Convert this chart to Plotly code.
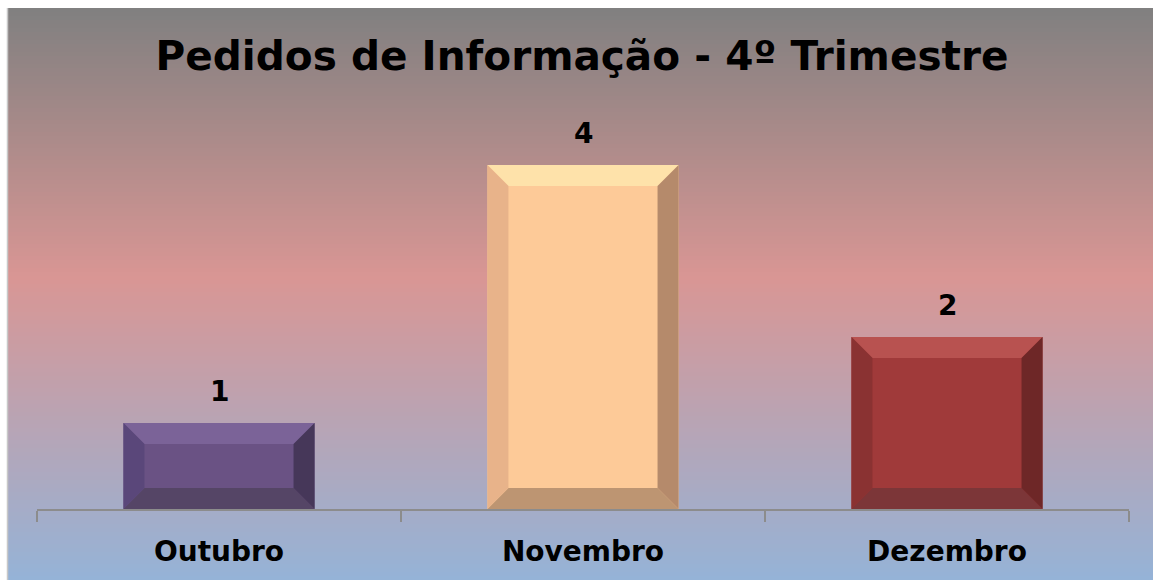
import plotly.graph_objects as go

# ---- data ----
categories = ["Outubro", "Novembro", "Dezembro"]
values = [1, 4, 2]
title_text = "Pedidos de Informação - 4º Trimestre"

# ---- styles ----
face_colors = {  # inner, top, left, right, bottom
    "Outubro": ["#6a5284", "#7b6398", "#5a477a", "#463759", "#554566"],
    "Novembro": ["#fdca98", "#fee2aa", "#e8b38a", "#b58a6b", "#bd9572"],
    "Dezembro": ["#a03a3a", "#b85250", "#8a3232", "#6e2727", "#7c3638"],
}
FONT = "DejaVu Sans"
W, H = 1153, 580
ML, MR, MT, MB = 37, 24, 79, 71
PW, PH = W - ML - MR, H - MT - MB
OFF_X, OFF_Y = 8, 8          # white frame at top/left of the picture
YMAX = 5
BAR_W = 0.525
BEVEL_PX = 21
dx = BEVEL_PX / (PW / 3)
dy = BEVEL_PX / (PH / YMAX)

fig = go.Figure()

# base bars
fig.add_trace(go.Bar(
    x=categories, y=values, width=BAR_W,
    marker=dict(color=[face_colors[c][0] for c in categories], line=dict(width=0)),
    hoverinfo="x+y", showlegend=False,
))

# bevel faces on a numeric overlay axis
for i, (c, v) in enumerate(zip(categories, values)):
    inner, top, left, right, bottom = face_colors[c]
    x0, x1 = i - BAR_W / 2, i + BAR_W / 2
    polys = [
        (top, [x0, x1, x1 - dx, x0 + dx, x0], [v, v, v - dy, v - dy, v]),
        (bottom, [x0, x1, x1 - dx, x0 + dx, x0], [0, 0, dy, dy, 0]),
        (left, [x0, x0 + dx, x0 + dx, x0, x0], [0, dy, v - dy, v, 0]),
        (right, [x1, x1 - dx, x1 - dx, x1, x1], [0, dy, v - dy, v, 0]),
    ]
    for col, xs, ys in polys:
        fig.add_trace(go.Scatter(
            x=xs, y=ys, xaxis="x2", mode="lines", fill="toself",
            fillcolor=col, line=dict(width=0, color=col),
            hoverinfo="skip", showlegend=False,
        ))

# value labels
for c, v in zip(categories, values):
    fig.add_annotation(
        x=c, y=v, text=str(v), showarrow=False, yanchor="bottom", yshift=13,
        font=dict(family=FONT, size=28, color="#000000", weight=700),
    )

# gradient background (bands)
def hex2rgb(h):
    h = h.lstrip("#")
    return [int(h[k:k + 2], 16) for k in (0, 2, 4)]

stops = [(0.0, hex2rgb("#808080")), (0.47, hex2rgb("#d99694")), (1.0, hex2rgb("#95b3d7"))]

def grad(t):
    t = min(max(t, 0.0), 1.0)
    for (t0, c0), (t1, c1) in zip(stops[:-1], stops[1:]):
        if t0 <= t <= t1:
            f = (t - t0) / (t1 - t0)
            return "rgb(%d,%d,%d)" % tuple(round(a + (b - a) * f) for a, b in zip(c0, c1))
    return "rgb(%d,%d,%d)" % tuple(stops[-1][1])

def px_x(p):
    return (p - ML) / PW

def px_y(p):
    return (H - MB - p) / PH

n = 143
GH = H - OFF_Y
shapes = []
for k in range(n):
    py0 = OFF_Y + GH * k / n
    py1 = OFF_Y + GH * (k + 1) / n + 0.6
    shapes.append(dict(
        type="rect", layer="below", xref="paper", yref="paper",
        x0=px_x(OFF_X), x1=px_x(W + 10),
        y0=px_y(py1 + (10 if k == n - 1 else 0)), y1=px_y(py0),
        fillcolor=grad((k + 0.5) / n), line=dict(width=0),
    ))
# thin light border at the left edge of the gradient
shapes.append(dict(
    type="line", layer="below", xref="paper", yref="paper",
    x0=px_x(OFF_X - 0.5), x1=px_x(OFF_X - 0.5),
    y0=px_y(H + 5), y1=px_y(OFF_Y),
    line=dict(width=1.5, color="#c8c8c8"),
))

fig.update_layout(
    width=W, height=H,
    margin=dict(l=ML, r=MR, t=MT, b=MB, pad=0),
    paper_bgcolor="#ffffff", plot_bgcolor="rgba(0,0,0,0)",
    shapes=shapes,
    title=dict(
        text=title_text, x=582 / W, xanchor="center", y=1 - 56 / H, yanchor="middle",
        font=dict(family=FONT, size=40.6, color="#000000", weight=700),
    ),
    xaxis=dict(
        type="category", range=[-0.5, 2.5], tickson="boundaries",
        showline=True, linecolor="#8c8c8c", linewidth=2,
        ticks="outside", ticklen=11, tickwidth=2, tickcolor="#8c8c8c",
        showgrid=False, tickfont=dict(family=FONT, size=28, color="#000000", weight=700),
        ticklabelstandoff=16,
    ),
    xaxis2=dict(overlaying="x", range=[-0.5, 2.5], visible=False, showgrid=False),
    yaxis=dict(range=[0, YMAX], visible=False, showgrid=False, zeroline=False),
    bargap=0.475,
)

fig.write_html(
    "out.html",
    config={"displayModeBar": False},
    post_script=(
        "document.documentElement.style.overflow='hidden';"
        "document.body.style.overflow='hidden';"
        "document.body.style.margin='0';"
    ),
)
